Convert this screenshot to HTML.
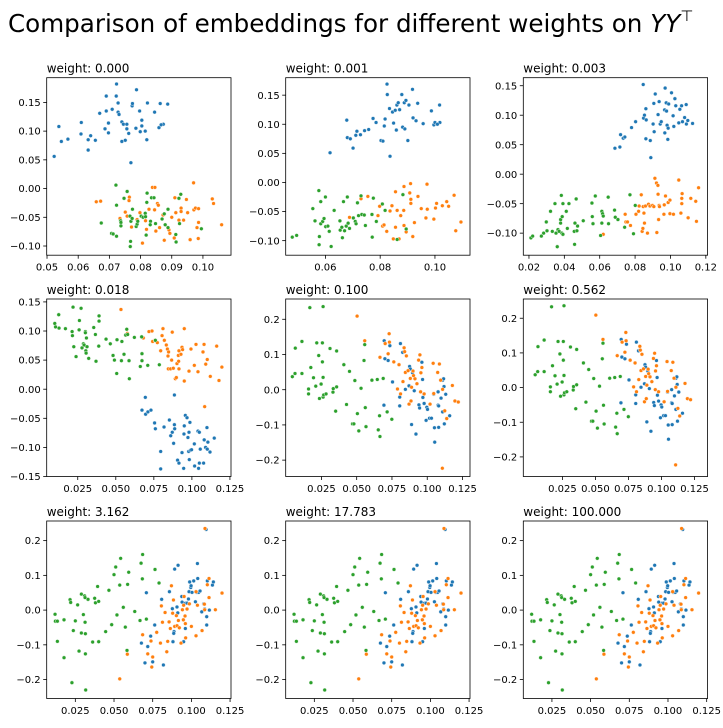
<!DOCTYPE html>
<html><head><meta charset="utf-8"><style>
body{margin:0;background:#fff}
svg text{font-family:"DejaVu Sans","Liberation Sans",sans-serif;fill:#000}
</style></head><body>
<svg id="fig" width="723" height="723" viewBox="0 0 723 723" xmlns="http://www.w3.org/2000/svg">
<rect width="723" height="723" fill="#fff"/>
<text x="8" y="32" font-size="24.6">Comparison of embeddings for different weights on <tspan font-style="italic">YY</tspan><tspan font-size="15" dy="-11">⊤</tspan></text>
</svg>
<script>
const p1Blue=[[0.0523,0.056],[0.0538,0.108],[0.0546,0.082],[0.0567,0.086],[0.0609,0.095],[0.061,0.115],[0.0632,0.085],[0.0632,0.067],[0.064,0.092],[0.0655,0.084],[0.0669,0.131],[0.0686,0.104],[0.069,0.135],[0.069,0.161],[0.0697,0.114],[0.0697,0.097],[0.0709,0.138],[0.0722,0.161],[0.0723,0.182],[0.0728,0.149],[0.0728,0.133],[0.0731,0.129],[0.074,0.116],[0.074,0.082],[0.0745,0.112],[0.0751,0.084],[0.0756,0.112],[0.0756,0.104],[0.0762,0.096],[0.0769,0.045],[0.0773,0.144],[0.0774,0.148],[0.0787,0.172],[0.0785,0.105],[0.0797,0.135],[0.0799,0.099],[0.0804,0.119],[0.0804,0.109],[0.0815,0.100],[0.082,0.085],[0.0822,0.149],[0.0845,0.133],[0.0859,0.106],[0.0863,0.148],[0.0873,0.112],[0.0887,0.147],[0.0866,0.111]];
const p1Orange=[[0.0658,-0.023],[0.0672,-0.022],[0.0734,-0.052],[0.0751,-0.041],[0.0764,-0.015],[0.0763,-0.021],[0.0757,-0.048],[0.0771,-0.067],[0.0789,-0.054],[0.0798,-0.042],[0.0806,-0.095],[0.0816,-0.056],[0.0819,-0.071],[0.0827,-0.036],[0.0838,0.002],[0.0846,0.002],[0.0845,-0.037],[0.0849,-0.074],[0.0854,-0.026],[0.0857,-0.029],[0.0861,-0.068],[0.0872,-0.046],[0.0876,-0.090],[0.0891,-0.072],[0.0894,-0.078],[0.09,-0.050],[0.091,-0.016],[0.0913,-0.042],[0.0908,-0.086],[0.0923,-0.055],[0.093,-0.034],[0.093,-0.040],[0.0938,-0.055],[0.0947,-0.019],[0.0951,-0.042],[0.0959,-0.089],[0.097,0.010],[0.0971,-0.037],[0.0976,-0.034],[0.0981,-0.068],[0.0986,-0.035],[0.0986,-0.059],[0.0985,-0.087],[0.103,-0.018],[0.1034,-0.026],[0.106,-0.063]];
const p1Green=[[0.0721,0.006],[0.0723,-0.029],[0.0674,-0.060],[0.0707,-0.078],[0.0712,-0.079],[0.0723,-0.083],[0.0736,-0.056],[0.0737,-0.059],[0.0737,-0.065],[0.0747,-0.017],[0.0757,-0.005],[0.0766,-0.048],[0.0769,-0.057],[0.0768,-0.092],[0.0767,-0.101],[0.0774,-0.036],[0.0773,-0.052],[0.0786,-0.066],[0.0789,-0.062],[0.0791,-0.057],[0.0802,-0.048],[0.0808,-0.050],[0.0815,-0.043],[0.0816,-0.049],[0.082,-0.024],[0.0821,-0.008],[0.0818,-0.081],[0.0832,-0.057],[0.0831,-0.063],[0.0835,-0.016],[0.0843,-0.016],[0.0848,-0.061],[0.0869,-0.053],[0.0876,-0.044],[0.0879,-0.063],[0.0888,-0.068],[0.0913,-0.080],[0.0914,-0.093],[0.0923,-0.017],[0.0925,-0.061],[0.0929,-0.010],[0.0995,-0.070],[0.0888,-0.036]];
const p2Blue=[[0.0617,0.051],[0.0678,0.107],[0.068,0.077],[0.0691,0.075],[0.0701,0.059],[0.0711,0.081],[0.0715,0.088],[0.0728,0.082],[0.0743,0.089],[0.0758,0.091],[0.0774,0.110],[0.0785,0.103],[0.0803,0.072],[0.081,0.071],[0.0815,0.097],[0.0818,0.109],[0.0825,0.169],[0.0826,0.151],[0.0836,0.045],[0.0834,0.127],[0.0845,0.121],[0.0849,0.102],[0.0855,0.124],[0.0859,0.090],[0.0861,0.133],[0.0866,0.137],[0.0871,0.125],[0.0879,0.151],[0.0882,0.095],[0.0888,0.137],[0.0894,0.141],[0.089,0.092],[0.0901,0.072],[0.0905,0.133],[0.0918,0.160],[0.092,0.111],[0.0931,0.106],[0.0937,0.136],[0.0957,0.101],[0.0987,0.123],[0.0996,0.099],[0.1,0.103],[0.1017,0.133],[0.1018,0.103],[0.1009,0.100]];
const p2Orange=[[0.0688,-0.060],[0.073,-0.028],[0.0755,-0.024],[0.0792,-0.057],[0.0798,-0.041],[0.0809,-0.075],[0.0814,-0.073],[0.0824,-0.084],[0.0836,-0.049],[0.0843,-0.040],[0.0848,-0.097],[0.0856,-0.077],[0.0856,-0.016],[0.0862,-0.048],[0.0869,-0.097],[0.0875,-0.057],[0.0886,-0.048],[0.0887,-0.007],[0.0887,-0.074],[0.0895,-0.085],[0.0908,-0.018],[0.0911,-0.002],[0.0912,-0.029],[0.0912,-0.036],[0.0919,-0.093],[0.0925,-0.069],[0.0938,-0.024],[0.095,-0.045],[0.0967,-0.061],[0.0971,-0.003],[0.0972,-0.046],[0.0996,-0.063],[0.1002,-0.044],[0.1006,-0.036],[0.1027,-0.040],[0.1043,-0.033],[0.105,-0.041],[0.107,-0.022],[0.1076,-0.083],[0.1095,-0.068]];
const p2Green=[[0.0479,-0.094],[0.0495,-0.091],[0.0554,-0.045],[0.0562,-0.066],[0.0576,-0.014],[0.0578,-0.093],[0.0577,-0.107],[0.0583,-0.033],[0.0583,-0.071],[0.059,-0.067],[0.0595,-0.062],[0.06,-0.025],[0.0601,-0.076],[0.0609,-0.075],[0.0614,-0.084],[0.0621,-0.110],[0.0632,-0.048],[0.0653,-0.066],[0.0654,-0.082],[0.066,-0.077],[0.0662,-0.095],[0.0666,-0.033],[0.067,-0.083],[0.0676,-0.075],[0.068,-0.025],[0.0683,-0.070],[0.0688,-0.079],[0.0702,-0.061],[0.0709,-0.067],[0.0712,-0.071],[0.0717,-0.035],[0.0721,-0.057],[0.073,-0.023],[0.0733,-0.055],[0.0742,-0.056],[0.0746,-0.074],[0.077,-0.055],[0.0771,-0.094],[0.0775,-0.027],[0.0786,-0.067],[0.0808,-0.037],[0.0818,-0.048],[0.0862,-0.098],[0.0883,-0.021],[0.0895,-0.080]];
const p3Blue=[[0.0686,0.044],[0.0714,0.046],[0.0718,0.067],[0.0733,0.061],[0.0742,0.063],[0.078,0.079],[0.0803,0.089],[0.0846,0.152],[0.0848,0.095],[0.0853,0.100],[0.0861,0.111],[0.0861,0.060],[0.0863,0.092],[0.0886,0.057],[0.0889,0.028],[0.0902,0.085],[0.0906,0.120],[0.0908,0.072],[0.0914,0.136],[0.093,0.101],[0.0936,0.123],[0.0942,0.085],[0.0948,0.089],[0.0967,0.109],[0.0968,0.070],[0.097,0.146],[0.0976,0.121],[0.0978,0.107],[0.0981,0.083],[0.0985,0.059],[0.0987,0.078],[0.099,0.119],[0.1006,0.138],[0.1015,0.099],[0.1019,0.081],[0.1025,0.128],[0.103,0.116],[0.1047,0.087],[0.1053,0.110],[0.1063,0.116],[0.1068,0.089],[0.108,0.096],[0.1089,0.118],[0.109,0.085],[0.1098,0.091],[0.1125,0.086]];
const p3Orange=[[0.062,-0.102],[0.0744,-0.068],[0.0748,-0.081],[0.0757,-0.081],[0.0774,-0.087],[0.0805,-0.068],[0.082,-0.063],[0.0823,-0.054],[0.0835,-0.035],[0.084,-0.097],[0.0844,-0.092],[0.0846,-0.055],[0.085,-0.066],[0.0853,-0.083],[0.0859,-0.054],[0.087,-0.100],[0.0876,-0.051],[0.0884,-0.054],[0.0899,-0.053],[0.0906,-0.055],[0.0912,-0.007],[0.0921,-0.015],[0.0923,-0.099],[0.0929,-0.019],[0.093,-0.034],[0.0933,-0.077],[0.0936,-0.053],[0.0938,-0.055],[0.0963,-0.068],[0.0965,-0.052],[0.0972,-0.037],[0.0987,-0.048],[0.0997,-0.044],[0.0997,-0.067],[0.1017,-0.068],[0.1047,-0.010],[0.1059,-0.066],[0.1064,-0.041],[0.1066,-0.033],[0.1064,-0.050],[0.11,-0.074],[0.1115,-0.041],[0.1143,-0.046],[0.1147,-0.080],[0.1159,-0.023]];
const p3Green=[[0.0211,-0.108],[0.0221,-0.105],[0.027,-0.105],[0.0283,-0.100],[0.0298,-0.081],[0.0302,-0.096],[0.0322,-0.063],[0.0332,-0.097],[0.0347,-0.050],[0.0353,-0.100],[0.036,-0.123],[0.0364,-0.094],[0.0371,-0.097],[0.0379,-0.077],[0.0379,-0.083],[0.0383,-0.036],[0.0386,-0.100],[0.0392,-0.050],[0.0388,-0.072],[0.0392,-0.102],[0.0411,-0.063],[0.0417,-0.092],[0.0426,-0.050],[0.0456,-0.097],[0.0458,-0.119],[0.046,-0.083],[0.0467,-0.042],[0.0471,-0.096],[0.0475,-0.088],[0.0507,-0.079],[0.0556,-0.049],[0.0558,-0.072],[0.0562,-0.084],[0.0575,-0.037],[0.0605,-0.104],[0.0612,-0.063],[0.0612,-0.083],[0.0616,-0.067],[0.062,-0.071],[0.0648,-0.039],[0.065,-0.084],[0.0684,-0.061],[0.0688,-0.073],[0.0703,-0.077],[0.0741,-0.090],[0.0771,-0.035],[0.0791,-0.101],[0.0801,-0.053]];
const p4Blue=[[0.0694,-0.014],[0.0672,-0.036],[0.0696,-0.043],[0.0711,-0.039],[0.0731,-0.036],[0.0755,-0.058],[0.076,-0.068],[0.0795,-0.107],[0.0795,-0.137],[0.0817,-0.065],[0.0852,-0.053],[0.0861,-0.080],[0.0871,-0.074],[0.088,-0.093],[0.0885,-0.010],[0.0885,-0.061],[0.0887,-0.068],[0.0906,-0.122],[0.0915,-0.127],[0.0935,-0.109],[0.0946,-0.136],[0.095,-0.063],[0.0948,-0.077],[0.0957,-0.045],[0.0968,-0.049],[0.0974,-0.083],[0.0979,-0.107],[0.0983,-0.121],[0.0981,-0.074],[0.0987,-0.057],[0.099,-0.105],[0.0998,-0.104],[0.1016,-0.094],[0.1018,-0.132],[0.104,-0.072],[0.1044,-0.136],[0.1049,-0.127],[0.1049,-0.074],[0.1055,-0.103],[0.1077,-0.127],[0.1081,-0.087],[0.109,-0.100],[0.1099,-0.066],[0.1101,-0.103],[0.1105,-0.091],[0.1119,-0.108],[0.1147,-0.084]];
const p4Orange=[[0.0534,0.137],[0.0576,0.096],[0.0681,0.088],[0.0718,0.099],[0.0738,0.100],[0.0742,0.082],[0.0758,0.084],[0.0773,0.080],[0.0795,0.066],[0.0804,0.092],[0.081,0.104],[0.0819,0.084],[0.0832,0.076],[0.0839,0.069],[0.0843,0.057],[0.0845,0.035],[0.0847,0.064],[0.086,0.035],[0.0867,0.050],[0.0871,0.098],[0.0878,0.036],[0.0891,0.018],[0.0898,0.020],[0.0902,0.044],[0.0911,0.058],[0.0915,0.035],[0.0913,0.048],[0.0915,0.066],[0.0928,0.060],[0.0935,0.072],[0.0939,0.068],[0.095,0.104],[0.095,0.014],[0.0981,0.031],[0.0994,0.069],[0.1016,0.041],[0.1027,0.077],[0.104,0.030],[0.1073,0.064],[0.108,0.077],[0.1091,0.043],[0.1101,0.051],[0.1121,0.022],[0.1163,0.074],[0.1178,0.015],[0.1197,0.038],[0.1084,-0.030]];
const p4Green=[[0.0099,0.113],[0.0104,0.107],[0.0125,0.128],[0.0127,0.105],[0.0169,0.104],[0.0213,0.099],[0.0215,0.092],[0.0219,0.141],[0.0224,0.073],[0.0239,0.056],[0.0259,0.102],[0.0261,0.118],[0.0272,0.139],[0.0278,0.071],[0.0287,0.078],[0.0292,0.076],[0.03,0.099],[0.03,0.097],[0.0303,0.066],[0.0305,0.062],[0.0307,0.088],[0.0311,0.073],[0.0322,0.053],[0.0355,0.106],[0.0366,0.094],[0.037,0.048],[0.0388,0.074],[0.039,0.126],[0.039,0.117],[0.0436,0.086],[0.0464,0.078],[0.0482,0.058],[0.0491,0.050],[0.0506,0.027],[0.0508,0.085],[0.0537,0.049],[0.054,0.082],[0.0554,0.060],[0.0565,0.093],[0.0572,0.103],[0.0578,0.094],[0.0587,0.049],[0.0589,0.018],[0.0622,0.089],[0.0661,0.039],[0.067,0.090],[0.0672,0.061],[0.0672,0.049],[0.071,0.041],[0.076,0.084],[0.0786,0.042]];
const p5Blue=[[0.0695,0.139],[0.07,0.088],[0.0723,0.083],[0.0735,0.125],[0.0693,-0.044],[0.0754,0.022],[0.0805,-0.021],[0.081,0.131],[0.0805,-0.046],[0.0826,0.106],[0.0845,0.001],[0.0875,0.066],[0.088,0.059],[0.0871,0.011],[0.0889,-0.099],[0.0896,0.048],[0.0908,-0.003],[0.092,-0.126],[0.0941,-0.043],[0.0946,-0.052],[0.0962,0.078],[0.0967,0.029],[0.0969,-0.022],[0.0978,-0.039],[0.0992,-0.087],[0.0997,-0.050],[0.1002,-0.056],[0.1016,-0.081],[0.103,-0.081],[0.1046,-0.013],[0.1051,-0.108],[0.1053,-0.149],[0.1077,-0.006],[0.1077,-0.044],[0.1081,-0.046],[0.1098,-0.024],[0.1109,0.027],[0.1116,0.031],[0.1119,0.009],[0.1121,-0.097],[0.1131,-0.013],[0.1159,-0.074],[0.1081,-0.107],[0.1109,-0.063]];
const p5Orange=[[0.0503,0.209],[0.0557,0.139],[0.0665,0.092],[0.0702,0.131],[0.0723,0.102],[0.073,0.159],[0.0732,0.135],[0.0763,0.079],[0.0789,0.002],[0.08,0.071],[0.0811,-0.012],[0.0828,0.023],[0.0836,0.119],[0.084,0.108],[0.0845,0.049],[0.0852,0.096],[0.0864,0.054],[0.0871,-0.041],[0.088,0.032],[0.0885,-0.032],[0.0889,0.007],[0.0899,0.053],[0.0903,0.040],[0.0913,0.031],[0.0927,0.017],[0.0939,0.084],[0.0948,0.099],[0.0953,-0.006],[0.0955,0.048],[0.0962,0.063],[0.0978,-0.012],[0.102,-0.041],[0.1042,0.075],[0.1046,-0.011],[0.1074,0.049],[0.1086,0.073],[0.1095,0.027],[0.1109,0.001],[0.1124,-0.060],[0.1138,-0.082],[0.1178,0.012],[0.1196,-0.032],[0.122,-0.035],[0.1107,-0.223]];
const p5Green=[[0.0044,0.037],[0.0063,0.046],[0.0065,0.118],[0.0112,0.046],[0.0112,0.137],[0.0159,0.002],[0.0159,-0.012],[0.0168,0.233],[0.0175,0.063],[0.0194,0.034],[0.021,0.010],[0.0217,0.133],[0.0231,0.097],[0.0236,-0.025],[0.0248,0.016],[0.0257,0.133],[0.0262,0.236],[0.0257,0.079],[0.0262,0.035],[0.0262,-0.021],[0.0266,-0.015],[0.0283,-0.012],[0.0311,0.117],[0.0332,-0.007],[0.0334,0.003],[0.0351,-0.061],[0.0358,0.110],[0.0358,0.008],[0.0409,0.071],[0.0428,-0.042],[0.0449,0.052],[0.047,-0.097],[0.048,-0.097],[0.0487,0.026],[0.0505,-0.068],[0.0515,-0.117],[0.0531,0.004],[0.0552,0.083],[0.0557,0.128],[0.0561,-0.051],[0.0566,-0.105],[0.0608,0.027],[0.0646,0.029],[0.0653,-0.114],[0.0662,-0.074],[0.0665,-0.133],[0.0688,0.032],[0.0716,-0.063],[0.0749,-0.084]];
const p7Blue=[[0.0677,-0.095],[0.0709,0.050],[0.07,-0.152],[0.0718,-0.105],[0.0737,-0.075],[0.075,-0.149],[0.0763,-0.043],[0.0808,0.031],[0.0819,-0.158],[0.0858,0.053],[0.0877,0.004],[0.0881,-0.091],[0.0888,-0.062],[0.0886,-0.067],[0.0892,0.118],[0.0914,0.129],[0.0912,-0.008],[0.0907,0.009],[0.0938,0.039],[0.094,0.023],[0.095,-0.091],[0.0961,-0.053],[0.0963,0.020],[0.0972,0.020],[0.0981,0.032],[0.0985,0.053],[0.0989,0.081],[0.0996,0.065],[0.0998,0.070],[0.1004,0.051],[0.1015,0.084],[0.1026,0.024],[0.1034,0.051],[0.1039,0.134],[0.1041,0.091],[0.1047,0.051],[0.1056,0.055],[0.1067,-0.005],[0.108,0.018],[0.1086,0.003],[0.1095,0.232],[0.1099,-0.019],[0.1099,-0.043],[0.1103,0.084],[0.1116,0.000],[0.1136,0.072],[0.1142,0.081]];
const p7Orange=[[0.0537,-0.198],[0.0586,-0.127],[0.0685,-0.071],[0.0718,-0.126],[0.0739,-0.089],[0.0744,-0.164],[0.075,-0.135],[0.0776,-0.064],[0.08,-0.095],[0.0806,0.012],[0.0813,-0.035],[0.083,-0.007],[0.0841,-0.120],[0.0847,-0.090],[0.0856,-0.034],[0.0864,-0.053],[0.0871,0.070],[0.0879,-0.009],[0.0884,0.029],[0.0892,-0.047],[0.0903,-0.016],[0.0907,-0.045],[0.0916,-0.030],[0.0922,-0.051],[0.0933,-0.095],[0.0942,0.001],[0.0948,-0.028],[0.095,0.014],[0.0953,0.039],[0.0959,-0.017],[0.0961,-0.039],[0.0963,-0.080],[0.0972,0.003],[0.0987,0.018],[0.1,-0.047],[0.103,0.053],[0.103,-0.074],[0.1039,0.014],[0.1069,-0.059],[0.1084,0.017],[0.1086,0.001],[0.1088,0.235],[0.1103,0.073],[0.1114,0.091],[0.1114,0.036],[0.1155,0.001],[0.1198,0.049]];
const p7Green=[[0.0119,-0.012],[0.0121,-0.032],[0.0134,-0.032],[0.0134,-0.090],[0.0177,-0.028],[0.0177,-0.137],[0.0216,0.030],[0.022,0.022],[0.0228,-0.209],[0.0237,-0.059],[0.025,-0.031],[0.0265,0.015],[0.0274,-0.118],[0.0289,0.046],[0.0289,-0.066],[0.0302,-0.013],[0.031,0.041],[0.0313,0.036],[0.0313,-0.035],[0.0315,-0.068],[0.0315,-0.126],[0.0317,-0.230],[0.0332,0.031],[0.0362,-0.092],[0.0375,0.034],[0.038,0.021],[0.0394,0.068],[0.0401,0.025],[0.0401,-0.091],[0.0446,-0.062],[0.0467,0.057],[0.0485,-0.042],[0.05,0.102],[0.0511,0.124],[0.0519,-0.014],[0.0537,0.072],[0.0543,0.149],[0.056,0.008],[0.0573,-0.049],[0.0584,-0.116],[0.0588,0.074],[0.0595,0.109],[0.0634,-0.004],[0.0668,-0.030],[0.0675,0.135],[0.0683,0.090],[0.0685,0.160],[0.0709,-0.026],[0.0765,0.117],[0.0791,0.078]];

const weights=["0.000","0.001","0.003","0.018","0.100","0.562","3.162","17.783","100.000"];
const xlims=[[0.0499,0.109],[0.0455,0.1128],[0.0168,0.121],[0.0046,0.1257],[-0.0003,0.1303],[-0.0046,0.1349],[0.0065,0.1256],[0.0065,0.1256],[0.0065,0.1256]];
const ylims=[[-0.116,0.193],[-0.125,0.180],[-0.1374,0.1636],[-0.150,0.155],[-0.2465,0.2576],[-0.2565,0.2555],[-0.2545,0.2565],[-0.2545,0.2565],[-0.2545,0.2565]];
const xtickSets=[[0.05,0.06,0.07,0.08,0.09,0.10],[0.06,0.08,0.10],[0.02,0.04,0.06,0.08,0.10,0.12],[0.025,0.05,0.075,0.1,0.125],[0.025,0.05,0.075,0.1,0.125],[0.025,0.05,0.075,0.1,0.125],[0.025,0.05,0.075,0.1,0.125],[0.025,0.05,0.075,0.1,0.125],[0.025,0.05,0.075,0.1,0.125]];
const ytickSets=[[-0.10,-0.05,0,0.05,0.10,0.15],[-0.10,-0.05,0,0.05,0.10,0.15],[-0.10,-0.05,0,0.05,0.10,0.15],[-0.15,-0.10,-0.05,0,0.05,0.10,0.15],[-0.2,-0.1,0,0.1,0.2],[-0.2,-0.1,0,0.1,0.2],[-0.2,-0.1,0,0.1,0.2],[-0.2,-0.1,0,0.1,0.2],[-0.2,-0.1,0,0.1,0.2]];
const xDecimals=[2,2,2,3,3,3,3,3,3];
const yDecimals=[2,2,2,2,1,1,1,1,1];
const blueSets=[p1Blue,p2Blue,p3Blue,p4Blue,p5Blue,p5Blue,p7Blue,p7Blue,p7Blue];
const orangeSets=[p1Orange,p2Orange,p3Orange,p4Orange,p5Orange,p5Orange,p7Orange,p7Orange,p7Orange];
const greenSets=[p1Green,p2Green,p3Green,p4Green,p5Green,p5Green,p7Green,p7Green,p7Green];

const NS="http://www.w3.org/2000/svg";
const svg=document.getElementById('fig');
const colLeft=[46.7,285.7,523.3], rowTop=[77.7,299,521], W=184.3, H=177.5;
function mk(tag,attrs,parent){const e=document.createElementNS(NS,tag);for(const k in attrs)e.setAttribute(k,attrs[k]);parent.appendChild(e);return e;}
function fmt(v,d){const s=Math.abs(v).toFixed(d);return (v< -1e-9?'\u2212':'')+s;}
for(let i=0;i<9;i++){
  const L=colLeft[i%3],T=rowTop[Math.floor(i/3)];
  const [x0,x1]=xlims[i],[y0,y1]=ylims[i];
  const sx=v=>L+(v-x0)/(x1-x0)*W;
  const sy=v=>T+H-(v-y0)/(y1-y0)*H;
  const g=mk('g',{},svg);
  
  
  const t=mk('text',{x:L,y:T-5,'font-size':12},g);
  
  
  t.textContent='weight: '+weights[i];
  const sets=[[blueSets[i],'#1f77b4','blue'],[orangeSets[i],'#ff7f0e','orange'],[greenSets[i],'#2ca02c','green']];
  for(const [pts,col,nm] of sets){
    const sg=mk('g',{},g);
    
    
    for(const p of pts){
      const c=mk('circle',{cx:sx(p[0]).toFixed(2),cy:sy(p[1]).toFixed(2),r:1.9,fill:col,stroke:'#fff','stroke-width':0.4},sg);
      
      
    }
  }
  const fr=mk('rect',{x:L,y:T,width:W,height:H,fill:'none',stroke:'#000','stroke-width':0.8},g);
  
  
  for(const v of xtickSets[i]){
    const x=sx(v);
    const tk=mk('line',{x1:x,x2:x,y1:T+H,y2:T+H+3.5,stroke:'#000','stroke-width':0.8},g);
    
    
    const lb=mk('text',{x:x,y:T+H+15.5,'font-size':10,'text-anchor':'middle'},g);
    
    
    lb.textContent=fmt(v,xDecimals[i]);
  }
  for(const v of ytickSets[i]){
    const y=sy(v);
    const tk=mk('line',{x1:L-3.5,x2:L,y1:y,y2:y,stroke:'#000','stroke-width':0.8},g);
    
    
    const lb=mk('text',{x:L-6,y:y+3.6,'font-size':10,'text-anchor':'end'},g);
    
    
    lb.textContent=fmt(v,yDecimals[i]);
  }
}
</script>
</body></html>
